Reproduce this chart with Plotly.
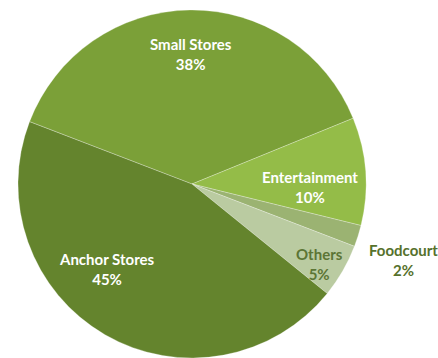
import plotly.graph_objects as go

# Share of leasable area by tenant type
categories = ["Small Stores", "Entertainment", "Foodcourt", "Others", "Anchor Stores"]
shares = [38, 10, 2, 5, 45]

slice_colors = ["#7BA038", "#94BC48", "#9BB372", "#BACBA1", "#64842D"]

W, H = 438, 358
cx, cy, r = 192, 184, 174  # pie centre and radius in pixels

# label block centres (pixels from top-left) and text colours
label_pos = {
    "Small Stores": (191, 54, "white"),
    "Entertainment": (310, 187, "white"),
    "Others": (319, 264, "#5C7535"),
    "Foodcourt": (403, 260, "#56712C"),
    "Anchor Stores": (107, 269, "white"),
}

fig = go.Figure(
    go.Pie(
        labels=categories,
        values=shares,
        sort=False,
        direction="clockwise",
        rotation=-69,
        marker=dict(colors=slice_colors,
                    line=dict(color="rgba(255,255,255,0.45)", width=0.6)),
        textinfo="none",
        hoverinfo="label+percent",
        showlegend=False,
        domain=dict(x=[(cx - r) / W, (cx + r) / W],
                    y=[1 - (cy + r) / H, 1 - (cy - r) / H]),
    )
)

for name, val in zip(categories, shares):
    px, py, col = label_pos[name]
    fig.add_annotation(
        x=px / W, y=1 - py / H, xref="paper", yref="paper",
        xanchor="center", yanchor="middle", showarrow=False,
        text=f"<b>{name}<br>{val}%</b>",
        font=dict(family="Lato", size=15, color=col),
        align="center",
    )

fig.update_layout(
    width=W, height=H,
    margin=dict(l=0, r=0, t=0, b=0),
    paper_bgcolor="white",
    plot_bgcolor="white",
)

fig.write_html("out.html")
